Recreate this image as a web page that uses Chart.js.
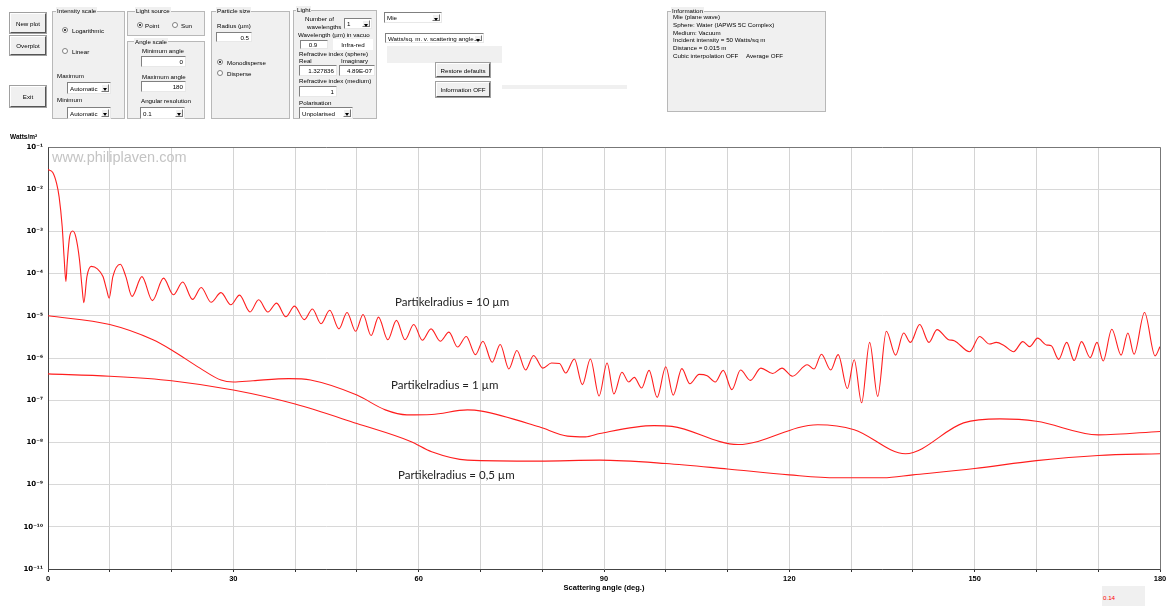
<!DOCTYPE html>
<html><head><meta charset="utf-8">
<script src="https://cdn.jsdelivr.net/npm/chart.js@4/dist/chart.umd.min.js"></script>
<style>
html,body{margin:0;padding:0;background:#fff;width:1171px;height:606px;overflow:hidden;}
#c{position:absolute;left:0;top:0;}
.u{position:absolute;font-family:"Liberation Sans",Arial,sans-serif;font-size:6.2px;color:#000;white-space:nowrap;line-height:7px;}
.grp{position:absolute;background:#f0f0f0;border:1px solid #b8b8b8;box-sizing:border-box;}
.gt{background:#f0f0f0;padding:0 1px;}
.btn{position:absolute;background:#f0f0f0;border:1px solid;border-color:#fff #555 #555 #fff;box-shadow:0 0 0 1px #a0a0a0;display:flex;align-items:center;justify-content:center;box-sizing:border-box;font-family:"Liberation Sans",Arial,sans-serif;font-size:6.2px;}
.inp{position:absolute;background:#fff;border:1px solid;border-color:#808080 #e8e8e8 #e8e8e8 #808080;box-sizing:border-box;display:flex;align-items:center;justify-content:flex-end;padding-right:2px;font-family:"Liberation Sans",Arial,sans-serif;font-size:6.2px;}
.sel{position:absolute;background:#fff;border:1px solid;border-color:#808080 #e8e8e8 #e8e8e8 #808080;box-sizing:border-box;display:flex;align-items:center;padding-left:2px;font-family:"Liberation Sans",Arial,sans-serif;font-size:6.2px;overflow:hidden;white-space:nowrap;}
.sel i{position:absolute;right:1px;top:1px;bottom:1px;width:8px;background:#f0f0f0;border:1px solid;border-color:#fff #777 #777 #fff;box-sizing:border-box;}
.sel i::after{content:"";position:absolute;left:1px;top:3px;border-left:2.5px solid transparent;border-right:2.5px solid transparent;border-top:3px solid #000;}
.rad{position:absolute;width:6px;height:6px;border-radius:50%;border:1px solid #808080;background:#fff;box-sizing:border-box;}
.rad.on::after{content:"";position:absolute;left:1px;top:1px;width:2px;height:2px;border-radius:50%;background:#000;}
.ann{position:absolute;font-family:Lato,"Noto Sans",sans-serif;font-size:11.5px;color:#222;white-space:nowrap;}
</style>
</head><body>
<canvas id="c" width="1171" height="606"></canvas>

<!-- control panel -->
<div class="btn" style="left:10px;top:13px;width:36px;height:20px;">New plot</div>
<div class="btn" style="left:10px;top:36px;width:36px;height:19px;">Overplot</div>
<div class="btn" style="left:10px;top:86px;width:36px;height:21px;">Exit</div>

<div class="grp" style="left:52px;top:11px;width:73px;height:108px;"></div>
<div class="u gt" style="left:56px;top:7px;">Intensity scale</div>
<div class="rad on" style="left:62px;top:27px;"></div><div class="u" style="left:72px;top:27px;">Logarithmic</div>
<div class="rad" style="left:62px;top:48px;"></div><div class="u" style="left:72px;top:48px;">Linear</div>
<div class="u" style="left:57px;top:72px;">Maximum</div>
<div class="sel" style="left:67px;top:82px;width:44px;height:12px;">Automatic<i></i></div>
<div class="u" style="left:57px;top:96px;">Minimum</div>
<div class="sel" style="left:67px;top:107px;width:44px;height:12px;">Automatic<i></i></div>

<div class="grp" style="left:127px;top:11px;width:78px;height:25px;"></div>
<div class="u gt" style="left:135px;top:7px;">Light source</div>
<div class="rad on" style="left:137px;top:22px;"></div><div class="u" style="left:145px;top:22px;">Point</div>
<div class="rad" style="left:172px;top:22px;"></div><div class="u" style="left:181px;top:22px;">Sun</div>

<div class="grp" style="left:127px;top:41px;width:78px;height:78px;"></div>
<div class="u gt" style="left:134px;top:38px;">Angle scale</div>
<div class="u" style="left:142px;top:47px;">Minimum angle</div>
<div class="inp" style="left:141px;top:56px;width:45px;height:11px;">0</div>
<div class="u" style="left:142px;top:73px;">Maximum angle</div>
<div class="inp" style="left:141px;top:81px;width:45px;height:11px;">180</div>
<div class="u" style="left:141px;top:97px;">Angular resolution</div>
<div class="sel" style="left:140px;top:107px;width:45px;height:12px;">0.1<i></i></div>

<div class="grp" style="left:211px;top:11px;width:79px;height:108px;"></div>
<div class="u gt" style="left:216px;top:7px;">Particle size</div>
<div class="u" style="left:217px;top:22px;">Radius (µm)</div>
<div class="inp" style="left:216px;top:32px;width:36px;height:10px;">0.5</div>
<div class="rad on" style="left:217px;top:59px;"></div><div class="u" style="left:227px;top:59px;">Monodisperse</div>
<div class="rad" style="left:217px;top:70px;"></div><div class="u" style="left:227px;top:70px;">Disperse</div>

<div class="grp" style="left:293px;top:10px;width:84px;height:109px;"></div>
<div class="u gt" style="left:296px;top:6px;">Light</div>
<div class="u" style="left:305px;top:15px;">Number of</div>
<div class="u" style="left:307px;top:23px;">wavelengths</div>
<div class="sel" style="left:344px;top:18px;width:28px;height:11px;">1<i></i></div>
<div class="u" style="left:298px;top:31px;">Wavelength (µm) in vacuo</div>
<div class="inp" style="left:300px;top:40px;width:28px;height:9px;justify-content:center;">0.9</div>
<div class="u" style="left:333px;top:39px;width:40px;height:11px;background:#fff;display:flex;align-items:center;justify-content:center;">Infra-red</div>
<div class="u" style="left:299px;top:50px;">Refractive index (sphere)</div>
<div class="u" style="left:299px;top:57px;">Real</div>
<div class="u" style="left:341px;top:57px;">Imaginary</div>
<div class="inp" style="left:299px;top:65px;width:38px;height:11px;">1.327836</div>
<div class="inp" style="left:339px;top:65px;width:36px;height:11px;">4.89E-07</div>
<div class="u" style="left:299px;top:77px;">Refractive index (medium)</div>
<div class="inp" style="left:299px;top:86px;width:38px;height:11px;">1</div>
<div class="u" style="left:299px;top:99px;">Polarisation</div>
<div class="sel" style="left:299px;top:107px;width:54px;height:12px;">Unpolarised<i></i></div>

<div class="sel" style="left:384px;top:12px;width:58px;height:11px;">Mie<i></i></div>
<div class="sel" style="left:385px;top:33px;width:99px;height:10px;">Watts/sq. m. v. scattering angle<i></i></div>
<div style="position:absolute;left:387px;top:46px;width:115px;height:17px;background:#f0f0f0;"></div>
<div class="btn" style="left:436px;top:63px;width:54px;height:14px;">Restore defaults</div>
<div class="btn" style="left:436px;top:82px;width:54px;height:15px;">Information OFF</div>
<div style="position:absolute;left:502px;top:85px;width:125px;height:4px;background:#f0f0f0;"></div>

<div class="grp" style="left:667px;top:11px;width:159px;height:101px;"></div>
<div class="u gt" style="left:671px;top:7px;">Information</div>
<div class="u" style="left:673px;top:13px;">Mie (plane wave)</div>
<div class="u" style="left:673px;top:21px;">Sphere: Water (IAPWS 5C Complex)</div>
<div class="u" style="left:673px;top:29px;">Medium: Vacuum</div>
<div class="u" style="left:673px;top:36px;">Incident intensity = 50 Watts/sq m</div>
<div class="u" style="left:673px;top:44px;">Distance = 0.015 m</div>
<div class="u" style="left:673px;top:52px;">Cubic interpolation OFF</div>
<div class="u" style="left:746px;top:52px;">Average OFF</div>

<!-- chart texts -->
<div class="u" style="left:10px;top:133px;font-weight:bold;font-size:6.5px;">Watts/m²</div>
<div style="position:absolute;left:52px;top:149px;font-family:'Liberation Sans',Arial,sans-serif;font-size:14.5px;color:#c4c4c4;">www.philiplaven.com</div>
<div class="ann" style="left:395px;top:295px;">Partikelradius = 10 µm</div>
<div class="ann" style="left:391px;top:378px;">Partikelradius = 1 µm</div>
<div class="ann" style="left:398px;top:468px;">Partikelradius = 0,5 µm</div>
<div style="position:absolute;left:1102px;top:586px;width:43px;height:20px;background:#f0f0f0;"></div>
<div class="u" style="left:1103px;top:594px;color:#ff0000;">0.14</div>

<script>
// Scattering angle (deg.) and intensity (W/m²)
const angles10 = [0,0.8,1.4,1.8,2.3,2.6,2.9,3.1,3.5,4.0,4.5,5.1,5.5,5.8,6.3,7.0,8.0,8.9,9.5,9.9,10.5,11.7,12.6,13.6,15.2,16.9,18.7,20.3,21.8,23.4,24.8,26.4,28.0,29.6,31.0,32.7,34.1,35.6,37.0,38.5,39.9,41.5,42.8,44.2,45.6,47.1,48.4,49.8,51.0,52.3,53.5,55.0,56.4,57.8,59.2,60.6,62.0,63.5,64.9,66.3,67.7,69.2,70.4,71.9,73.2,74.6,75.9,77.3,78.6,80.1,81.5,82.8,83.8,85.2,86.5,87.8,89.2,90.5,91.6,92.9,94.0,94.9,96.1,97.3,98.6,100.0,101.2,102.6,103.9,105.4,106.7,108.0,109.3,110.7,112.1,113.7,115.4,117.3,118.8,120.5,122.9,124.0,125.2,126.7,127.9,129.4,130.5,131.7,133.0,134.3,135.7,137.2,138.5,139.6,141.1,142.6,143.9,145.7,146.7,149.2,150.8,152.4,153.5,154.8,156.3,157.8,158.9,160.2,161.6,162.4,163.6,164.9,166.1,167.3,168.7,169.8,170.8,172.2,173.7,174.8,175.8,177.5,179.2,180];
const intensity10 = [2.92e-2,2.45e-2,1.35e-2,6.6e-3,1.29e-3,2.5e-4,6.5e-5,1.74e-4,7.4e-4,1.02e-3,7.4e-4,2.1e-4,4.9e-5,2.04e-5,8.5e-5,1.48e-4,1.29e-4,8.5e-5,4.1e-5,2.63e-5,8.5e-5,1.66e-4,8.5e-5,2.88e-5,8.5e-5,2.29e-5,7.8e-5,3.16e-5,6.3e-5,2.45e-5,4.7e-5,2.09e-5,3.55e-5,1.82e-5,3.09e-5,1.23e-5,2.4e-5,1.23e-5,2.0e-5,9.5e-6,1.7e-5,8.1e-6,1.45e-5,6.5e-6,1.35e-5,4.9e-6,1.2e-5,4.3e-6,1.07e-5,3.4e-6,9.3e-6,2.7e-6,7.8e-6,2.7e-6,6.2e-6,2.63e-6,4.9e-6,2.5e-6,4.1e-6,1.82e-6,3.24e-6,1.2e-6,2.5e-6,7.9e-7,2.09e-6,5.5e-7,1.51e-6,5.2e-7,1.15e-6,5.75e-7,7.6e-7,7.4e-7,4.4e-7,9.5e-7,2.34e-7,9.5e-7,1.26e-7,7.6e-7,1.41e-7,4.6e-7,2.7e-7,3.47e-7,1.95e-7,5.1e-7,1.17e-7,6.2e-7,1.32e-7,5.6e-7,2.45e-7,4.1e-7,3.8e-7,2.7e-7,5.1e-7,1.78e-7,5.2e-7,2.95e-7,5.75e-7,4.3e-7,5.75e-7,3.7e-7,6.9e-7,5.5e-7,1.23e-6,5.2e-7,1.2e-6,1.9e-7,9.1e-7,8.7e-8,2.34e-6,1.23e-7,4.3e-6,1.17e-6,3.9e-6,2.34e-6,6.2e-6,2.34e-6,4.7e-6,2.75e-6,2.57e-6,1.41e-6,3.24e-6,2.14e-6,2.34e-6,1.95e-6,1.41e-6,2.45e-6,1.86e-6,2.95e-6,2.04e-6,1.95e-6,9.3e-7,2.34e-6,8.7e-7,2.45e-6,1.02e-6,2.34e-6,8.5e-7,4.8e-6,1.17e-6,3.9e-6,1.23e-6,1.2e-5,1.12e-6,1.86e-6];

const angles1 = [0,10,17,20,24.6,28,30,33.2,39,42.5,50,54.6,58.1,62.1,67.9,70.2,79.5,84.1,87,89.3,98.1,101,111.7,124.6,130.5,138.8,148.2,154.1,160,170,180];
const intensity1 = [1.0e-5,6.2e-6,2.7e-6,1.55e-6,5.75e-7,3.0e-7,2.7e-7,2.9e-7,3.24e-7,3.0e-7,1.32e-7,5.9e-8,4.5e-8,4.6e-8,5.9e-8,5.5e-8,2.34e-8,1.41e-8,1.35e-8,1.62e-8,2.5e-8,2.4e-8,8.9e-9,2.63e-8,2.0e-8,5.4e-9,2.9e-8,3.6e-8,3.16e-8,1.51e-8,1.82e-8];

const angles05 = [0,10,20,30,40,50,58.7,62.1,67.9,79.5,89.3,100,110,120,127.6,135.2,140,150,160,170,180];
const intensity05 = [4.2e-7,3.7e-7,2.9e-7,1.74e-7,8.1e-8,2.8e-8,1.05e-8,6.0e-9,3.8e-9,3.6e-9,3.8e-9,3.16e-9,2.34e-9,1.7e-9,1.45e-9,1.45e-9,1.7e-9,2.4e-9,3.7e-9,4.9e-9,5.4e-9];

const xTicks = [0,10,20,30,40,50,60,70,80,90,100,110,120,130,140,150,160,170,180];
const xTickLabels = ['0','','','30','','','60','','','90','','','120','','','150','','','180'];
const yTicks = [1e-11,1e-10,1e-9,1e-8,1e-7,1e-6,1e-5,1e-4,1e-3,1e-2,1e-1];
const yTickLabels = ['10⁻¹¹','10⁻¹⁰','10⁻⁹','10⁻⁸','10⁻⁷','10⁻⁶','10⁻⁵','10⁻⁴','10⁻³','10⁻²','10⁻¹'];

const toPts = (xs, ys) => xs.map((x, i) => ({x: x, y: ys[i]}));
const lineStyle = {borderColor: 'rgb(255,30,30)', borderWidth: 1.1, pointRadius: 0, fill: false, cubicInterpolationMode: 'monotone'};

const framePlugin = {
  id: 'frame',
  afterDraw(chart) {
    const {ctx, chartArea: a} = chart;
    ctx.save();
    ctx.strokeStyle = '#777';
    ctx.lineWidth = 1;
    ctx.beginPath();
    ctx.moveTo(Math.round(a.left) + 0.5, Math.round(a.top) + 0.5);
    ctx.lineTo(Math.round(a.right) + 0.5, Math.round(a.top) + 0.5);
    ctx.lineTo(Math.round(a.right) + 0.5, Math.round(a.bottom) + 0.5);
    ctx.stroke();
    ctx.restore();
  }
};

const tickFont = {family: "'Liberation Sans', Arial, sans-serif", size: 7.5, weight: 'bold'};
const yTickFont = {family: "'DejaVu Sans', 'Liberation Sans', sans-serif", size: 7, weight: 'bold'};

new Chart(document.getElementById('c'), {
  type: 'line',
  data: {
    datasets: [
      Object.assign({label: 'Partikelradius = 10 µm', data: toPts(angles10, intensity10)}, lineStyle),
      Object.assign({label: 'Partikelradius = 1 µm', data: toPts(angles1, intensity1)}, lineStyle),
      Object.assign({label: 'Partikelradius = 0,5 µm', data: toPts(angles05, intensity05)}, lineStyle)
    ]
  },
  options: {
    responsive: false,
    animation: false,
    layout: {padding: {top: 147, right: 11, left: 0, bottom: 0}},
    plugins: {legend: {display: false}, tooltip: {enabled: false}},
    scales: {
      x: {
        type: 'linear', min: 0, max: 180,
        afterBuildTicks: s => { s.ticks = xTicks.map(v => ({value: v})); },
        afterFit: s => { s.height = 37; },
        ticks: {autoSkip: false, maxRotation: 0, padding: 2, color: '#000', font: tickFont,
                callback: (v, i) => xTickLabels[i]},
        grid: {color: '#d4d4d4', lineWidth: 1, tickLength: 3, tickColor: '#333'},
        border: {color: '#444', width: 1},
        title: {display: true, text: 'Scattering angle (deg.)', color: '#000', font: tickFont, padding: {top: 0, bottom: 13.5}}
      },
      y: {
        type: 'logarithmic', min: 1e-11, max: 1e-1,
        afterBuildTicks: s => { s.ticks = yTicks.map(v => ({value: v})); },
        afterFit: s => { s.width = 48; },
        ticks: {autoSkip: false, padding: 5, color: '#000', font: yTickFont,
                callback: (v, i) => yTickLabels[i]},
        grid: {color: '#d8d8d8', lineWidth: 1, drawTicks: false},
        border: {color: '#444', width: 1}
      }
    }
  },
  plugins: [framePlugin]
});
</script>
</body></html>
